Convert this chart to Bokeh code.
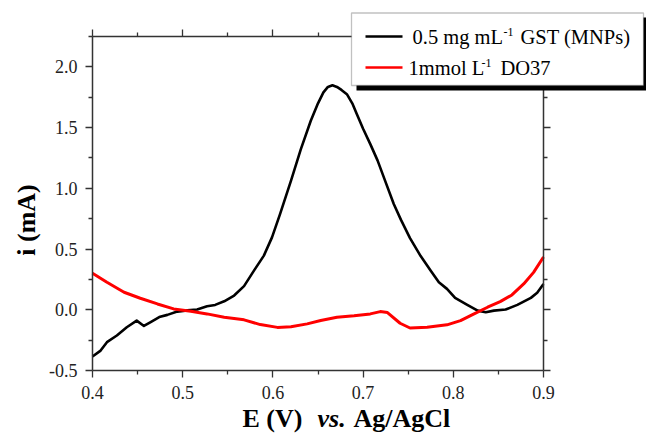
import math
from bokeh.plotting import figure
from bokeh.models import (Range1d, LinearAxis, FixedTicker, NumeralTickFormatter,
                          CustomJSTickFormatter, BoxAnnotation, Label, Arrow)
from bokeh.embed import file_html
from bokeh.resources import INLINE

# ---------------- data ----------------
gst_E = [0.400, 0.409, 0.416, 0.427, 0.438, 0.449, 0.457, 0.464, 0.474, 0.483,
         0.494, 0.505, 0.516, 0.527, 0.536, 0.546, 0.557, 0.568, 0.579, 0.590,
         0.599, 0.608, 0.620, 0.631, 0.642, 0.650, 0.656, 0.661, 0.666, 0.671,
         0.676, 0.682, 0.688, 0.693, 0.700, 0.708, 0.716, 0.723, 0.734, 0.742,
         0.752, 0.764, 0.775, 0.784, 0.793, 0.802, 0.815, 0.827, 0.836, 0.845,
         0.858, 0.871, 0.886, 0.893, 0.900]
gst_i = [-0.385, -0.336, -0.267, -0.212, -0.144, -0.089, -0.133, -0.103, -0.060, -0.042,
         -0.015, -0.005, 0.002, 0.029, 0.040, 0.070, 0.117, 0.195, 0.322, 0.446,
         0.596, 0.789, 1.062, 1.323, 1.556, 1.700, 1.790, 1.835, 1.848, 1.835,
         1.810, 1.775, 1.700, 1.611, 1.490, 1.364, 1.230, 1.090, 0.871, 0.740,
         0.590, 0.440, 0.322, 0.226, 0.172, 0.098, 0.043, -0.007, -0.021, -0.007,
         0.002, 0.040, 0.098, 0.140, 0.213]

do37_E = [0.400, 0.416, 0.435, 0.453, 0.472, 0.490, 0.509, 0.527, 0.546, 0.568,
          0.586, 0.605, 0.620, 0.638, 0.653, 0.671, 0.690, 0.708, 0.719, 0.727,
          0.741, 0.752, 0.771, 0.793, 0.808, 0.823, 0.838, 0.852, 0.865, 0.878,
          0.889, 0.900]
do37_i = [0.300, 0.226, 0.144, 0.095, 0.048, 0.007, -0.012, -0.034, -0.062, -0.083,
          -0.122, -0.145, -0.140, -0.116, -0.089, -0.062, -0.050, -0.034, -0.015, -0.023,
          -0.111, -0.150, -0.144, -0.124, -0.089, -0.034, 0.021, 0.067, 0.122, 0.213,
          0.308, 0.435]

x_limits = [0.4, 0.9]
y_limits = [-0.5, 2.25]
x_major_ticks = [0.4, 0.5, 0.6, 0.7, 0.8, 0.9]
x_minor_ticks = [0.45, 0.55, 0.65, 0.75, 0.85]
y_major_ticks = [-0.5, 0.0, 0.5, 1.0, 1.5, 2.0]
y_minor_ticks = [-0.25, 0.25, 0.75, 1.25, 1.75, 2.25]

series_names = ["0.5 mg mL", "1mmol L"]
series_tails = ["GST (MNPs)", "DO37"]
series_colors = ["black", "red"]
x_title = ["E (V)", "vs.", "Ag/AgCl"]
y_title = "i (mA)"

# ---------------- layout geometry (picture pixels) ----------------
W, H = 646, 433          # canvas size
FL, FR, FT, FB = 92, 543, 36, 370  # axes box edges in picture pixels
SERIF = "Liberation Serif"


def px2x(px):
    return x_limits[0] + (px - FL) * (x_limits[1] - x_limits[0]) / (FR - FL)


def px2y(py):
    return y_limits[0] + (FB - py) * (y_limits[1] - y_limits[0]) / (FB - FT)


p = figure(width=W, height=H, output_backend="svg", toolbar_location=None,
           x_range=Range1d(px2x(0), px2x(W)),
           y_range=Range1d(px2y(H), px2y(0)),
           min_border_left=0, min_border_right=0, min_border_top=0, min_border_bottom=0,
           x_axis_type=None, y_axis_type=None)
p.outline_line_color = None
p.background_fill_color = "white"
p.border_fill_color = "white"


def style_axis(ax, show_labels):
    ax.axis_line_color = "#333333"
    ax.axis_line_width = 1.5
    ax.major_tick_line_color = "#333333"
    ax.minor_tick_line_color = "#333333"
    ax.major_tick_line_width = 1.3
    ax.minor_tick_line_width = 1.3
    ax.major_tick_in = 0
    ax.major_tick_out = 7
    ax.minor_tick_in = 0
    ax.minor_tick_out = 4
    ax.major_label_text_font = SERIF
    ax.major_label_text_color = "#222222"
    ax.major_label_text_font_size = "18px"
    if not show_labels:
        ax.formatter = CustomJSTickFormatter(code="return ''")


def axis(ticks, minor, fixed, bounds, fmt):
    return LinearAxis(ticker=FixedTicker(ticks=ticks, minor_ticks=minor),
                      fixed_location=fixed, bounds=tuple(bounds),
                      formatter=NumeralTickFormatter(format=fmt))


xb = axis(x_major_ticks, x_minor_ticks, y_limits[0], x_limits, "0.0")
style_axis(xb, True)
xb.major_label_standoff = 8
p.add_layout(xb, "below")

yl = axis(y_major_ticks, y_minor_ticks, x_limits[0], y_limits, "0.0")
style_axis(yl, True)
yl.major_label_standoff = 8
p.add_layout(yl, "left")

xt = axis(x_major_ticks, x_minor_ticks, y_limits[1], x_limits, "0.0")
style_axis(xt, False)
p.add_layout(xt, "above")

yr = axis(y_major_ticks, y_minor_ticks, x_limits[1], y_limits, "0.0")
style_axis(yr, False)
p.add_layout(yr, "right")

# curves
p.line(gst_E, gst_i, line_color=series_colors[0], line_width=2.6, line_join="round")
p.line(do37_E, do37_i, line_color=series_colors[1], line_width=3, line_join="round")

# axis titles
p.add_layout(Label(x=px2x(26), y=px2y(219.5), text=y_title, angle=math.pi / 2,
                   text_font=SERIF, text_font_size="26px", text_font_style="bold",
                   text_align="center", text_baseline="middle", text_color="black"))
title_x = [242, 317, 353]
title_style = ["bold", "bold italic", "bold"]
for t, tx, ts in zip(x_title, title_x, title_style):
    p.add_layout(Label(x=px2x(tx), y=px2y(418), text=t, text_font=SERIF,
                       text_font_size="26px", text_font_style=ts,
                       text_baseline="middle", text_color="black"))

# legend (shadow + box)
p.add_layout(BoxAnnotation(left=px2x(356), right=px2x(649), top=px2y(17), bottom=px2y(90),
                           fill_color="black", fill_alpha=1.0, line_color=None))
p.add_layout(BoxAnnotation(left=px2x(351), right=px2x(643), top=px2y(12.5), bottom=px2y(85),
                           fill_color="white", fill_alpha=1.0, line_color="#333333",
                           line_width=1.3))

rows_y = [36, 67]
head_x = [412, 408]
sup_x = [503, 481]
tail_x = [520, 500]
for k in range(2):
    ly = rows_y[k]
    p.add_layout(Arrow(end=None, x_start=px2x(365), y_start=px2y(ly), x_end=px2x(402),
                       y_end=px2y(ly), line_color=series_colors[k], line_width=2.6))
    p.add_layout(Label(x=px2x(head_x[k]), y=px2y(ly), text=series_names[k],
                       text_font=SERIF, text_font_size="20.5px", text_baseline="middle",
                       text_color="black"))
    p.add_layout(Label(x=px2x(sup_x[k]), y=px2y(ly - 4.5), text="-1",
                       text_font=SERIF, text_font_size="12px", text_baseline="middle",
                       text_color="black"))
    p.add_layout(Label(x=px2x(tail_x[k]), y=px2y(ly), text=series_tails[k],
                       text_font=SERIF, text_font_size="20.5px", text_baseline="middle",
                       text_color="black"))

open("out.html", "w").write(file_html(p, INLINE))
